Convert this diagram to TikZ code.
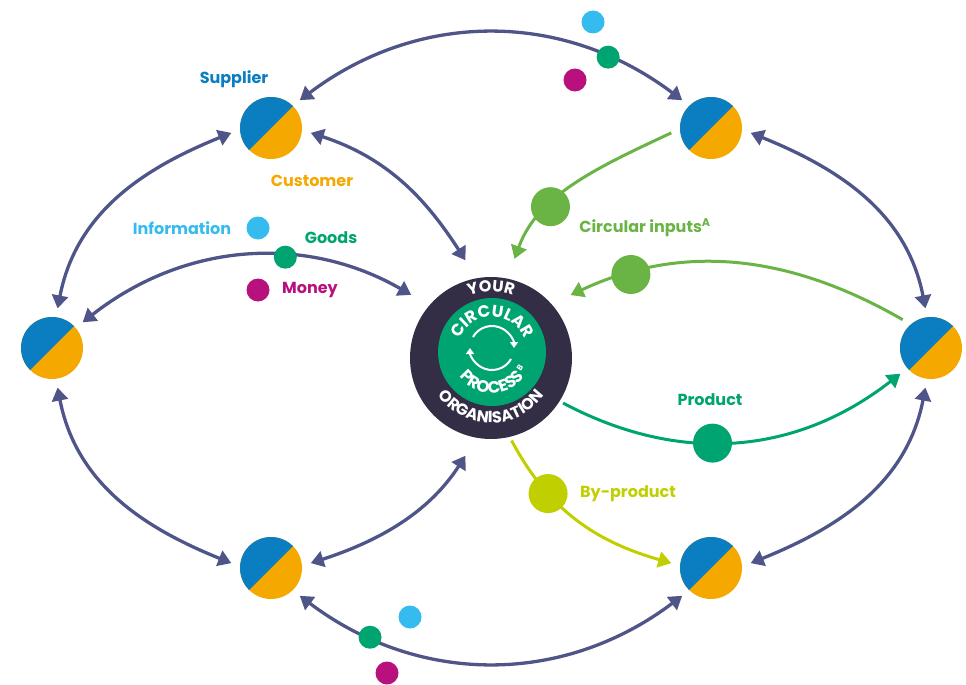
\documentclass[tikz,border=0pt]{standalone}
\usepackage{fontspec}
\setmainfont{Poppins}
\usetikzlibrary{arrows.meta,decorations.text}

\definecolor{navy}{HTML}{4F5589}
\definecolor{orgdark}{HTML}{332E45}
\definecolor{goods}{HTML}{00A470}
\definecolor{circin}{HTML}{6AB445}
\definecolor{byprod}{HTML}{C0CF00}
\definecolor{info}{HTML}{36BBEE}
\definecolor{money}{HTML}{B8107D}
\definecolor{pieblue}{HTML}{0B7DC1}
\definecolor{pieorange}{HTML}{F5A800}

\begin{document}
\begin{tikzpicture}[x=1pt,y=1pt,
  pie/.style={circle,minimum size=62pt,inner sep=0pt,outer sep=9pt,fill=pieorange,
    path picture={\fill[pieblue] (path picture bounding box.south west) -- (path picture bounding box.north east) -- (path picture bounding box.north west) -- cycle;}},
  link/.style={navy,line width=3.3pt,{Triangle[length=13pt,width=16pt]}-{Triangle[length=13pt,width=16pt]}},
  flow/.style={#1,line width=3pt,-{Triangle[length=13pt,width=16pt]}},
  bigdot/.style={circle,minimum size=39pt,inner sep=0pt,fill=#1},
  smalldot/.style={circle,minimum size=23pt,inner sep=0pt,fill=#1},
  lbl/.style={font=\bfseries\fontsize{16}{16}\selectfont,text=#1},
  ringtext/.style={decorate,decoration={text along path,text align=center,text color=white,text={#1}}}]
	\useasboundingbox (0,0) rectangle (966,-685);

	% the organisation
	\node[circle,minimum size=162pt,inner sep=0pt,outer sep=4pt,fill=orgdark] (org) at (491,-358) {};
	\node[circle,minimum size=108pt,inner sep=0pt,fill=goods] (proc) at (492,-352) {};
	\path[ringtext={|\bfseries\fontsize{16}{16}\selectfont|YOUR}] (org.center) ++(120:66) arc[start angle=120,end angle=60,radius=66];
	\path[ringtext={|\bfseries\fontsize{16}{16}\selectfont|ORGANISATION}] (org.center) ++(190:65) arc[start angle=190,end angle=350,radius=65];
	\path[ringtext={|\bfseries\fontsize{16.5}{16.5}\selectfont|CIRCULAR}] (proc.center) ++(178:35) arc[start angle=178,end angle=2,radius=35];
	\path[ringtext={|\bfseries\fontsize{16.5}{16.5}\selectfont|PROCESS}] (proc.center) ++(192:41) arc[start angle=192,end angle=348,radius=41];
	\node[text=white,font=\bfseries\fontsize{8}{8}\selectfont,inner sep=0pt,rotate=58] (sup-b) at ([shift={(331:32)}]proc.center) {B};
	\draw[white,line width=2pt,-{Triangle[length=6pt,width=8pt]}] ([yshift=4pt]proc.center) ++(150:22) arc[start angle=150,end angle=0,radius=22];
	\draw[white,line width=2pt,-{Triangle[length=6pt,width=8pt]}] ([yshift=4pt]proc.center) ++(-30:22) arc[start angle=-30,end angle=-180,radius=22];

	% partners
	\node[pie] (sup) at (271,-128) {};
	\node[pie] (tr) at (711,-128) {};
	\node[pie] (l) at (52,-348) {};
	\node[pie] (r) at (931,-348) {};
	\node[pie] (bl) at (271,-568) {};
	\node[pie] (br) at (711,-568) {};

	% links between partners
	\draw[link] (sup.44) to[out=37,in=143] node[pos=0.8,smalldot=goods] (topgoods) {} (tr.136);
	\draw[link] (l.82) to[out=79,in=202] (sup.187);
	\draw[link] (l.-82) to[out=-79,in=158] (bl.173);
	\draw[link] (bl.-44) to[out=-37,in=-143] node[pos=0.19,smalldot=goods] (botgoods) {} (br.-136);
	\draw[link] (r.-98) to[out=-101,in=22] (br.7);
	\draw[link] (r.98) to[out=101,in=-22] (tr.-7);
	\draw[link,shorten >=17pt] (sup.-7) to[out=-18,in=123] (org.101);
	\draw[link,shorten >=17pt] (l.40) to[out=38,in=150] node[pos=0.6,smalldot=goods] (midgoods) {} (org.140);
	\draw[link,shorten >=17pt] (bl.7) to[out=18,in=-123] (org.-101);

	% flows
	\draw[flow=circin,shorten >=17pt] (tr.187) to[out=205,in=70] node[pos=0.64,bigdot=circin] (ci1) {} (org.78);
	\draw[flow=circin,shorten >=17pt] (r.135) to[out=150,in=25] node[pos=0.79,bigdot=circin] (ci2) {} (org.41);
	\draw[flow=goods] (org.-32) to[out=-28,in=218] node[pos=0.43,bigdot=goods] (prod) {} (r.220);
	\draw[flow=byprod] (org.-76) to[out=-62,in=164] node[pos=0.3,bigdot=byprod] (byp) {} (br.173);

	% information and money
	\node[smalldot=info] (topinfo) at (593,-22) {};
	\node[smalldot=money] (topmoney) at (575,-80) {};
	\node[smalldot=info] (midinfo) at (258,-228) {};
	\node[smalldot=money] (midmoney) at (258,-290) {};
	\node[smalldot=info] (botinfo) at (410,-617) {};
	\node[smalldot=money] (botmoney) at (387,-673) {};

	% labels
	\node[lbl=pieblue] (supplier) at (234,-79) {Supplier};
	\node[lbl=pieorange] (customer) at (312,-181) {Customer};
	\node[lbl=info] (information) at (182,-228) {Information};
	\node[lbl=goods] (goodslbl) at (331,-238) {Goods};
	\node[lbl=money] (moneylbl) at (310,-290) {Money};
	\node[lbl=circin] (circlbl) at (645,-228) {Circular inputs\textsuperscript{A}};
	\node[lbl=goods] (prodlbl) at (710,-400) {Product};
	\node[lbl=byprod] (byplbl) at (628,-494) {By-product};
\end{tikzpicture}
\end{document}
